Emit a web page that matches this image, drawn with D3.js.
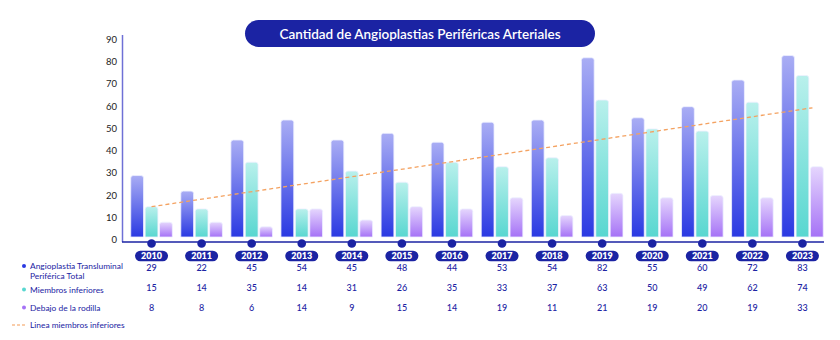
<!DOCTYPE html>
<html>
<head>
<meta charset="utf-8">
<script src="https://cdn.jsdelivr.net/npm/d3@7"></script>
<style>
  body { margin: 0; background: #fff; }
  svg { display: block; font-family: Lato, "Open Sans", sans-serif; }
</style>
</head>
<body>
<div id="chart"></div>
<script>
const years = [2010, 2011, 2012, 2013, 2014, 2015, 2016, 2017, 2018, 2019, 2020, 2021, 2022, 2023];
const total = [29, 22, 45, 54, 45, 48, 44, 53, 54, 82, 55, 60, 72, 83];
const lowerLimbs = [15, 14, 35, 14, 31, 26, 35, 33, 37, 63, 50, 49, 62, 74];
const belowKnee = [8, 8, 6, 14, 9, 15, 14, 19, 11, 21, 19, 20, 19, 33];
const trendEnds = [15, 59.5]; // dashed line, 2010 -> 2023
const yTicks = [0, 10, 20, 30, 40, 50, 60, 70, 80, 90];
const seriesNames = ["Angioplastia Transluminal|Periférica Total", "Miembros inferiores", "Debajo de la rodilla"];
const trendName = "Linea miembros inferiores";
const title = "Cantidad de Angioplastias Periféricas Arteriales";

const width = 840, height = 340;
const navy = "#1b23a3";

const svg = d3.select("#chart").append("svg").attr("width", width).attr("height", height);

const x = d3.scaleBand().domain(years).range([126.5, 827.5]).paddingInner(0);
const y = d3.scaleLinear().domain([0, 90]).range([240, 40]);
const cx = yr => x(yr) + x.bandwidth() / 2;

// gradients, one per series, light at the top of each bar
const grads = [
    ["gTotal", "#a9adf4", "#2a39e2"],
    ["gLower", "#b9f0ec", "#58d7d0"],
    ["gKnee", "#e5d6fd", "#a572f6"]
];
const defs = svg.append("defs");
grads.forEach(([id, top, bottom]) => {
    const g = defs.append("linearGradient").attr("id", id).attr("x1", 0).attr("x2", 0).attr("y1", 0).attr("y2", 1);
    g.append("stop").attr("offset", "0%").attr("stop-color", top);
    g.append("stop").attr("offset", "100%").attr("stop-color", bottom);
});

// title pill
svg.append("rect").attr("x", 245).attr("y", 20).attr("width", 350).attr("height", 27)
    .attr("rx", 13.5).attr("fill", navy);
svg.append("text").attr("x", 420).attr("y", 38.5).attr("text-anchor", "middle")
    .attr("fill", "#fff").attr("font-size", 13.5).attr("font-weight", 600).text(title);

// y axis
svg.append("line").attr("x1", 122.5).attr("x2", 122.5).attr("y1", 35).attr("y2", 242)
    .attr("stroke", "#6f70d6").attr("stroke-width", 1.5);
svg.selectAll(".ytick").data(yTicks).enter().append("text")
    .attr("x", 117).attr("y", d => y(d) + 3)
    .attr("text-anchor", "end").attr("font-size", 9.5).attr("fill", "#222")
    .text(d => d);

// bars
const bw = 12.8, step = 14.4;
const series = [total, lowerLimbs, belowKnee];
const base = y(0) - 3;
function topRounded(x0, y0, w, h, r) {
    return `M${x0},${y0 + h}V${y0 + r}Q${x0},${y0} ${x0 + r},${y0}H${x0 + w - r}Q${x0 + w},${y0} ${x0 + w},${y0 + r}V${y0 + h}Z`;
}
series.forEach((vals, s) => {
    svg.append("g").selectAll("path").data(vals).enter().append("path")
        .attr("d", (d, i) => {
            const x0 = cx(years[i]) + (s - 1) * step - bw / 2;
            return topRounded(x0, y(d), bw, base - y(d), 2.5);
        })
        .attr("fill", `url(#${grads[s][0]})`)
        .attr("stroke", "#eef0ff").attr("stroke-width", 0.8);
});

// trend line of lower limbs
svg.append("line")
    .attr("x1", cx(years[0])).attr("y1", y(trendEnds[0]))
    .attr("x2", cx(years[years.length - 1]) + 10).attr("y2", y(trendEnds[1]))
    .attr("stroke", "#f4a261").attr("stroke-width", 1.3).attr("stroke-dasharray", "4,3");

// x axis with dots and year pills
svg.append("line").attr("x1", 122).attr("x2", 824).attr("y1", 242).attr("y2", 242)
    .attr("stroke", navy).attr("stroke-width", 1.5);
svg.append("g").selectAll("circle").data(years).enter().append("circle")
    .attr("cx", cx).attr("cy", 243.5).attr("r", 4.3).attr("fill", navy);
const pills = svg.append("g").selectAll("g").data(years).enter().append("g")
    .attr("transform", d => `translate(${cx(d)},256)`);
pills.append("rect").attr("x", -16.5).attr("y", -5.2).attr("width", 33).attr("height", 10.4)
    .attr("rx", 5.2).attr("fill", navy);
pills.append("text").attr("y", 3.3).attr("text-anchor", "middle").attr("fill", "#fff")
    .attr("font-size", 9).attr("font-weight", 800).text(d => d);

// value table
const rowY = [268, 288, 307.5];
series.forEach((vals, s) => {
    svg.append("g").selectAll("text").data(vals).enter().append("text")
        .attr("x", (d, i) => cx(years[i])).attr("y", rowY[s] + 3.2)
        .attr("text-anchor", "middle").attr("font-size", 9).attr("font-weight", 500)
        .attr("fill", navy).text(d => d);
});

// legend
const legendY = [266, 289.5, 307.5];
const dotColors = ["#2a39e2", "#58d7d0", "#a572f6"];
seriesNames.forEach((name, s) => {
    svg.append("circle").attr("cx", 24).attr("cy", legendY[s]).attr("r", 2).attr("fill", dotColors[s]);
    name.split("|").forEach((line, k) => {
        svg.append("text").attr("x", 30).attr("y", legendY[s] + 3 + k * 9.5)
            .attr("font-size", 8.4).attr("fill", navy).text(line);
    });
});
svg.append("line").attr("x1", 12).attr("x2", 26).attr("y1", 325).attr("y2", 325)
    .attr("stroke", "#f7bd8f").attr("stroke-width", 1.3).attr("stroke-dasharray", "3,2");
svg.append("text").attr("x", 30).attr("y", 328).attr("font-size", 8.4).attr("fill", navy).text(trendName);
</script>
</body>
</html>
